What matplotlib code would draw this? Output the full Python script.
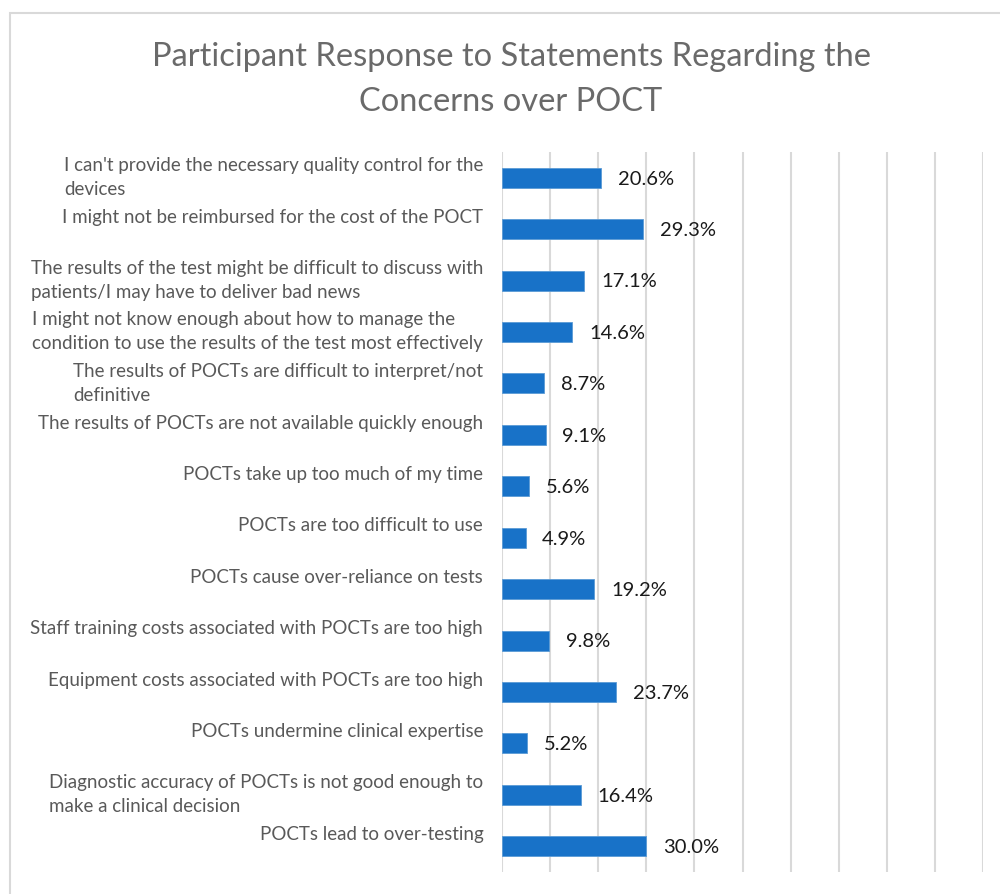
import matplotlib.pyplot as plt
import matplotlib.transforms as mtransforms
from matplotlib.patches import Rectangle

labels = [
    "I can't provide the necessary quality control for the\ndevices",
    "I might not be reimbursed for the cost of the POCT",
    "The results of the test might be difficult to discuss with\npatients/I may have to deliver bad news",
    "I might not know enough about how to manage the\ncondition to use the results of the test most effectively",
    "The results of POCTs are difficult to interpret/not\ndefinitive",
    "The results of POCTs are not available quickly enough",
    "POCTs take up too much of my time",
    "POCTs are too difficult to use",
    "POCTs cause over-reliance on tests",
    "Staff training costs associated with POCTs are too high",
    "Equipment costs associated with POCTs are too high",
    "POCTs undermine clinical expertise",
    "Diagnostic accuracy of POCTs is not good enough to\nmake a clinical decision",
    "POCTs lead to over-testing",
]
values = [20.6, 29.3, 17.1, 14.6, 8.7, 9.1, 5.6, 4.9, 19.2, 9.8, 23.7, 5.2, 16.4, 30.0]

plt.rcParams['font.family'] = ['Lato', 'DejaVu Sans']

fig = plt.figure(figsize=(10, 8.94), dpi=100)
ax = fig.add_axes([0.502, 0.0246, 0.481, 0.8054])

pos = list(range(len(values)))
ax.barh(pos, values, height=0.39, color='#1872C8', edgecolor='#5B9BD5', linewidth=0.6, zorder=3)
ax.set_ylim(-0.5, len(values) - 0.5)
ax.invert_yaxis()
ax.set_xlim(0, 100)
ax.set_xticks(range(0, 101, 10))
ax.set_xticklabels([])
ax.set_yticks([])
ax.tick_params(length=0)
ax.grid(axis='x', color='#D9D9D9', linewidth=1.5, zorder=0)
for s in ax.spines.values():
    s.set_visible(False)

# data labels to the right of each bar
for p, v in zip(pos, values):
    ax.annotate(f"{v:.1f}%", (v, p), xytext=(12, -1), textcoords='offset points',
                ha='left', va='center', fontsize=14.5, color='#1a1a1a')

# category labels (single-line ones sit a bit higher, as in the original)
for p, lab in zip(pos, labels):
    dy = 0 if '\n' in lab else 8.5
    tr = mtransforms.offset_copy(ax.get_yaxis_transform(), fig=fig, x=-13.5, y=dy, units='points')
    ax.text(0, p, lab, transform=tr, ha='right', va='center', multialignment='left',
            fontsize=13.5, color='#595959', linespacing=1.5)

fig.text(0.511, 0.911, "Participant Response to Statements Regarding the\nConcerns over POCT",
         ha='center', va='center', fontsize=23.5, color='#6a6a6a', linespacing=1.6)

fig.patches.append(Rectangle((0.010, -0.05), 1.2, 1 - 13 / 894 + 0.05, transform=fig.transFigure,
                             fill=False, edgecolor='#D9D9D9', linewidth=1.5))

plt.savefig('out.png', dpi=100)
